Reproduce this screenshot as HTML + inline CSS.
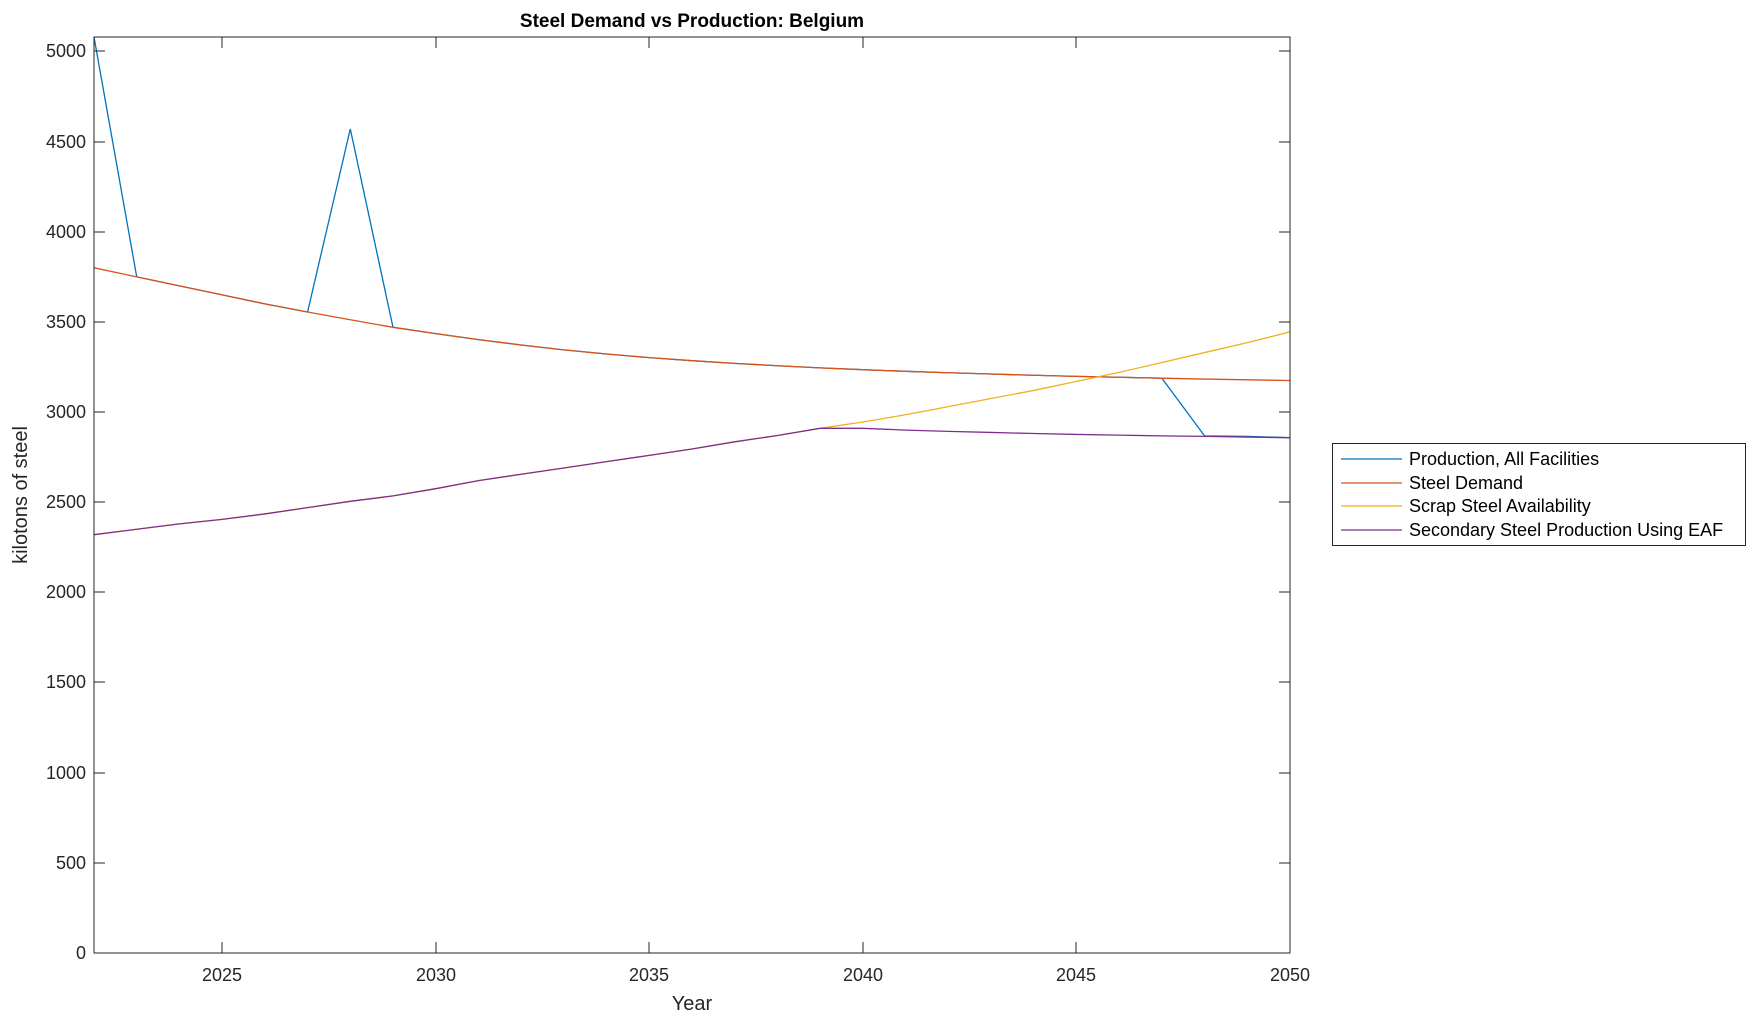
<!DOCTYPE html>
<html><head><meta charset="utf-8"><style>
html,body{margin:0;padding:0;background:#fff;}
svg{display:block;font-family:"Liberation Sans",Arial,sans-serif;}
</style></head><body>
<svg width="1756" height="1021" viewBox="0 0 1756 1021" xmlns="http://www.w3.org/2000/svg">
<rect width="1756" height="1021" fill="#fff"/>
<text x="692" y="27" font-size="19" font-weight="bold" text-anchor="middle">Steel Demand vs Production: Belgium</text>
<g transform="translate(94,953) scale(42.714,-0.18031)" fill="none" stroke-width="1.3">
<polyline vector-effect="non-scaling-stroke" stroke="#0072BD" points="0,5080 1,3750 2,3700 3,3650 4,3600 5,3555 6,4570 7,3470 8,3435 9,3402 10,3372 11,3345 12,3322 13,3302 14,3285 15,3270 16,3257 17,3245 18,3235 19,3226 20,3218 21,3211 22,3204 23,3198 24,3193 25,3188 26,2868 27,2865 28,2858"/>
<polyline vector-effect="non-scaling-stroke" stroke="#D95319" points="0,3800 1,3750 2,3700 3,3650 4,3600 5,3555 6,3512 7,3470 8,3435 9,3402 10,3372 11,3345 12,3322 13,3302 14,3285 15,3270 16,3257 17,3245 18,3235 19,3226 20,3218 21,3211 22,3204 23,3198 24,3193 25,3188 26,3183 27,3179 28,3175"/>
<polyline vector-effect="non-scaling-stroke" stroke="#EDB120" points="0,2320 1,2350 2,2380 3,2405 4,2435 5,2470 6,2505 7,2535 8,2575 9,2620 10,2655 11,2690 12,2725 13,2760 14,2795 15,2835 16,2870 17,2910 18,2945 19,2985 20,3030 21,3075 22,3120 23,3170 24,3220 25,3275 26,3330 27,3385 28,3445"/>
<polyline vector-effect="non-scaling-stroke" stroke="#7E2F8E" points="0,2320 1,2350 2,2380 3,2405 4,2435 5,2470 6,2505 7,2535 8,2575 9,2620 10,2655 11,2690 12,2725 13,2760 14,2795 15,2835 16,2870 17,2910 18,2910 19,2900 20,2893 21,2887 22,2881 23,2876 24,2872 25,2868 26,2865 27,2861 28,2858"/>
</g>
<rect x="94" y="37" width="1196" height="916" fill="none" stroke="#262626" stroke-width="1"/>
<g stroke="#262626" stroke-width="1">
<line x1="94" y1="953" x2="105" y2="953"/><line x1="1290" y1="953" x2="1279" y2="953"/>
<line x1="94" y1="863" x2="105" y2="863"/><line x1="1290" y1="863" x2="1279" y2="863"/>
<line x1="94" y1="773" x2="105" y2="773"/><line x1="1290" y1="773" x2="1279" y2="773"/>
<line x1="94" y1="682" x2="105" y2="682"/><line x1="1290" y1="682" x2="1279" y2="682"/>
<line x1="94" y1="592" x2="105" y2="592"/><line x1="1290" y1="592" x2="1279" y2="592"/>
<line x1="94" y1="502" x2="105" y2="502"/><line x1="1290" y1="502" x2="1279" y2="502"/>
<line x1="94" y1="412" x2="105" y2="412"/><line x1="1290" y1="412" x2="1279" y2="412"/>
<line x1="94" y1="322" x2="105" y2="322"/><line x1="1290" y1="322" x2="1279" y2="322"/>
<line x1="94" y1="232" x2="105" y2="232"/><line x1="1290" y1="232" x2="1279" y2="232"/>
<line x1="94" y1="142" x2="105" y2="142"/><line x1="1290" y1="142" x2="1279" y2="142"/>
<line x1="94" y1="51" x2="105" y2="51"/><line x1="1290" y1="51" x2="1279" y2="51"/>
<line x1="222" y1="953" x2="222" y2="942"/><line x1="222" y1="37" x2="222" y2="48"/>
<line x1="436" y1="953" x2="436" y2="942"/><line x1="436" y1="37" x2="436" y2="48"/>
<line x1="649" y1="953" x2="649" y2="942"/><line x1="649" y1="37" x2="649" y2="48"/>
<line x1="863" y1="953" x2="863" y2="942"/><line x1="863" y1="37" x2="863" y2="48"/>
<line x1="1076" y1="953" x2="1076" y2="942"/><line x1="1076" y1="37" x2="1076" y2="48"/>
</g>
<g font-size="18" fill="#262626" text-anchor="end">
<text x="86" y="959">0</text><text x="86" y="869">500</text><text x="86" y="779">1000</text>
<text x="86" y="688">1500</text><text x="86" y="598">2000</text><text x="86" y="508">2500</text>
<text x="86" y="418">3000</text><text x="86" y="328">3500</text><text x="86" y="238">4000</text>
<text x="86" y="148">4500</text><text x="86" y="57">5000</text>
</g>
<g font-size="18" fill="#262626" text-anchor="middle">
<text x="222" y="981">2025</text><text x="436" y="981">2030</text><text x="649" y="981">2035</text>
<text x="863" y="981">2040</text><text x="1076" y="981">2045</text><text x="1290" y="981">2050</text>
<text x="692" y="1010" font-size="20">Year</text>
</g>
<text transform="translate(27,495) rotate(-90)" font-size="20" fill="#262626" text-anchor="middle">kilotons of steel</text>
<rect x="1332.5" y="443.5" width="413" height="102" fill="#fff" stroke="#262626" stroke-width="1"/>
<g stroke-width="1.3">
<line x1="1341" y1="459" x2="1402" y2="459" stroke="#0072BD"/>
<line x1="1341" y1="483" x2="1402" y2="483" stroke="#D95319"/>
<line x1="1341" y1="506" x2="1402" y2="506" stroke="#EDB120"/>
<line x1="1341" y1="530" x2="1402" y2="530" stroke="#7E2F8E"/>
</g>
<g font-size="18" fill="#000">
<text x="1409" y="465">Production, All Facilities</text>
<text x="1409" y="489">Steel Demand</text>
<text x="1409" y="512">Scrap Steel Availability</text>
<text x="1409" y="536">Secondary Steel Production Using EAF</text>
</g>
</svg>
</body></html>
